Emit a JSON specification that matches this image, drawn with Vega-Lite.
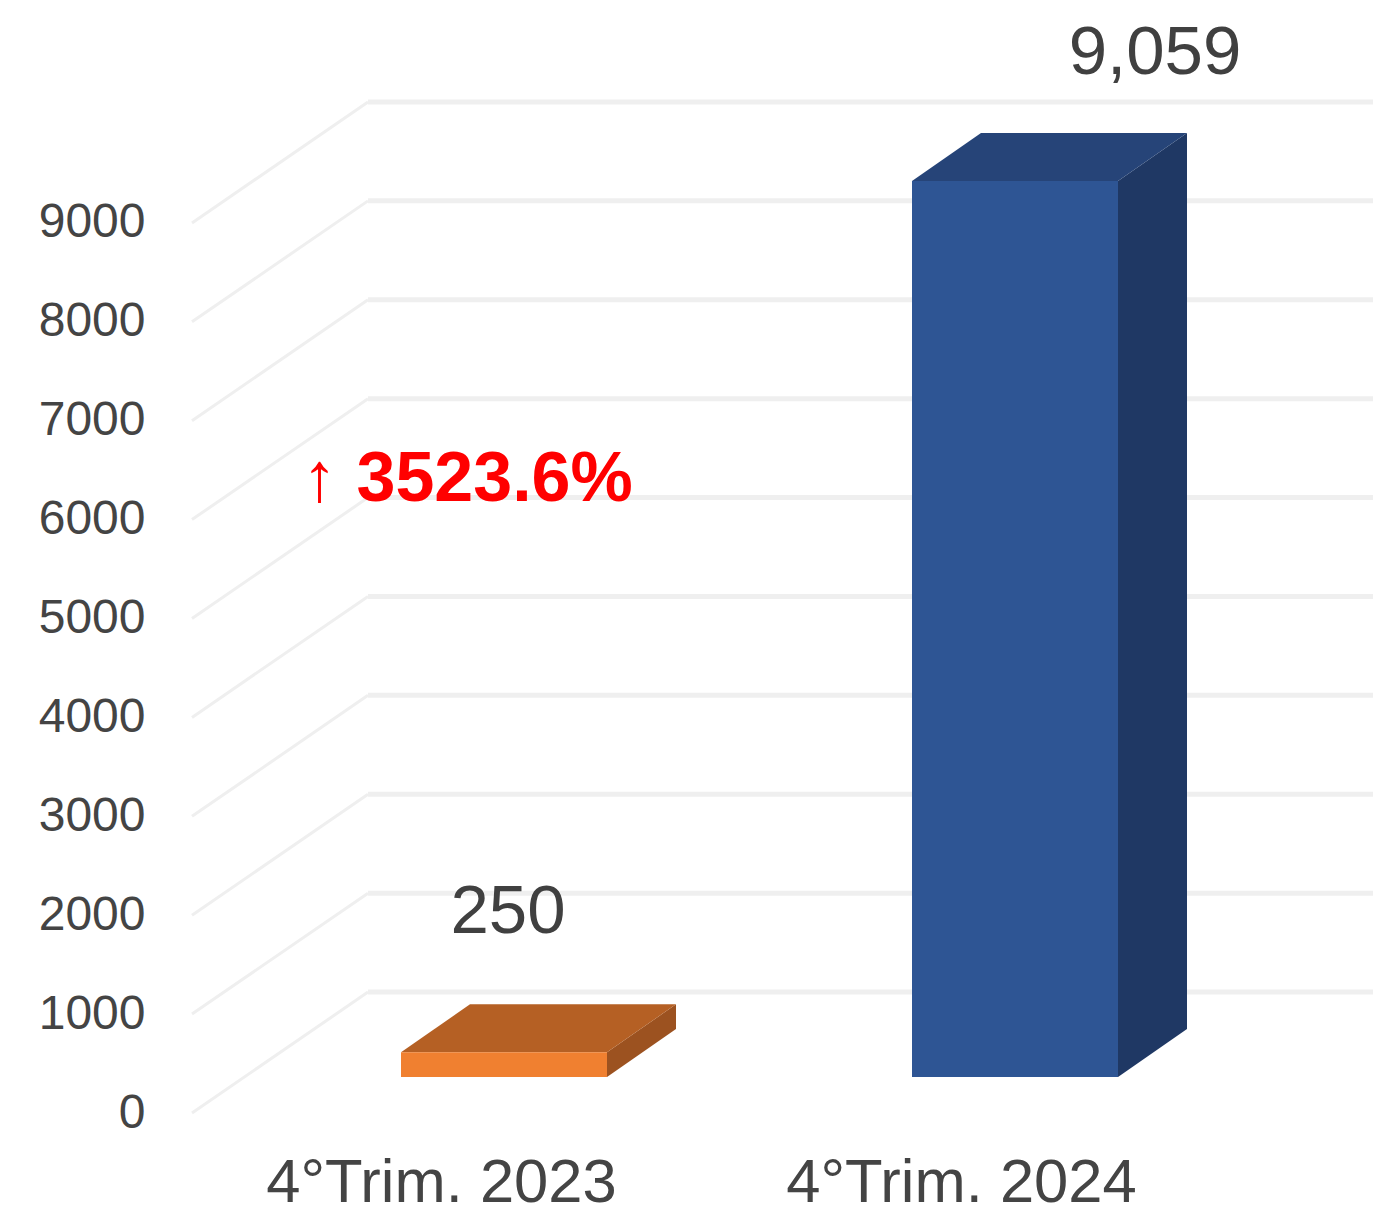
{
"$schema":"https://vega.github.io/schema/vega-lite/v6.json",
"width":1181,"height":1113,
"autosize":{"type":"none"},
"padding":{"left":192,"right":0,"top":0,"bottom":92},
"background":"white",
"config":{"view":{"stroke":null},"font":"Liberation Sans"},
"resolve":{"scale":{"color":"independent"}},
"datasets":{
"bars":[{"quarter":"4°Trim. 2023","value":250},{"quarter":"4°Trim. 2024","value":9059}],
"ticks":[{"tick":0},{"tick":1000},{"tick":2000},{"tick":3000},{"tick":4000},{"tick":5000},{"tick":6000},{"tick":7000},{"tick":8000},{"tick":9000}],
"note":[{"label":"↑ 3523.6%"}]
},
"layer":[
{"data":{"name":"ticks"},
 "transform":[{"calculate":"datum.tick+1223","as":"back"},{"calculate":"0","as":"a"},{"calculate":"176","as":"b"}],
 "mark":{"type":"rule","stroke":"#EFEFEF","strokeWidth":3},
 "encoding":{
  "x":{"field":"a","type":"quantitative","scale":{"domain":[0,1181],"nice":false,"zero":false},
   "axis":{"values":[249,769],"labelExpr":"datum.value<500?'4°Trim. 2023':'4°Trim. 2024'","title":null,"domain":false,"ticks":false,"grid":false,"labelFontSize":61.5,"labelColor":"#444444","labelPadding":39,"labelBaseline":"top","labelFlush":false,"labelOverlap":false,"labelLimit":600}},
  "x2":{"field":"b"},
  "y":{"field":"tick","type":"quantitative","scale":{"domain":[0,11254],"nice":false,"zero":false},
   "axis":{"values":[0,1000,2000,3000,4000,5000,6000,7000,8000,9000],"format":"d","title":null,"domain":false,"ticks":false,"grid":false,"labelFontSize":48,"labelColor":"#444444","labelPadding":47,"labelOverlap":false,"labelFlush":false,"labelLimit":300}},
  "y2":{"field":"back"}
 }},
{"data":{"name":"ticks"},
 "transform":[{"calculate":"datum.tick+1223","as":"back"},{"calculate":"176","as":"b"},{"calculate":"1181","as":"c"}],
 "mark":{"type":"rule","stroke":"#EFEFEF","strokeWidth":5},
 "encoding":{"x":{"field":"b","type":"quantitative"},"x2":{"field":"c"},"y":{"field":"back","type":"quantitative"}}},
{"data":{"name":"bars"},
 "transform":[{"calculate":"datum.value<1000?209:720","as":"x0"},{"calculate":"datum.x0+206","as":"x1"},{"calculate":"364","as":"base"},{"calculate":"364+datum.value","as":"top"},{"calculate":"[0,1]","as":"t"},{"flatten":["t"]},{"calculate":"datum.x1+69*datum.t","as":"sx"},{"calculate":"datum.base+485*datum.t","as":"sb"},{"calculate":"datum.top+485*datum.t","as":"st"}],
 "mark":{"type":"area","orient":"vertical"},
 "encoding":{"x":{"field":"sx","type":"quantitative"},"y":{"field":"sb","type":"quantitative"},"y2":{"field":"st"},"color":{"field":"quarter","type":"nominal","legend":null,"scale":{"domain":["4°Trim. 2023","4°Trim. 2024"],"range":["#9C5220","#1F3864"]}}}},
{"data":{"name":"bars"},
 "transform":[{"calculate":"datum.value<1000?209:720","as":"x0"},{"calculate":"364+datum.value","as":"top"},{"calculate":"[0,1]","as":"t"},{"flatten":["t"]},{"calculate":"datum.x0+69*datum.t","as":"tl"},{"calculate":"datum.x0+206+69*datum.t","as":"tr"},{"calculate":"datum.top+485*datum.t","as":"ty"}],
 "mark":{"type":"area","orient":"horizontal"},
 "encoding":{"y":{"field":"ty","type":"quantitative"},"x":{"field":"tl","type":"quantitative"},"x2":{"field":"tr"},"color":{"field":"quarter","type":"nominal","legend":null,"scale":{"domain":["4°Trim. 2023","4°Trim. 2024"],"range":["#B56024","#264478"]}}}},
{"data":{"name":"bars"},
 "transform":[{"calculate":"datum.value<1000?209:720","as":"x0"},{"calculate":"datum.x0+206","as":"x1"},{"calculate":"364","as":"base"},{"calculate":"364+datum.value","as":"top"}],
 "mark":{"type":"rect"},
 "encoding":{"x":{"field":"x0","type":"quantitative"},"x2":{"field":"x1"},"y":{"field":"base","type":"quantitative"},"y2":{"field":"top"},"color":{"field":"quarter","type":"nominal","legend":null,"scale":{"domain":["4°Trim. 2023","4°Trim. 2024"],"range":["#F08030","#2E5594"]}}}},
{"data":{"name":"bars"},
 "transform":[{"calculate":"datum.value<1000?316:963","as":"lx"},{"calculate":"datum.value<1000?2030:10715","as":"ly"},{"calculate":"format(datum.value,',')","as":"txt"}],
 "mark":{"type":"text","fontSize":69,"color":"#404040","align":"center","baseline":"middle"},
 "encoding":{"x":{"field":"lx","type":"quantitative"},"y":{"field":"ly","type":"quantitative"},"text":{"field":"txt"}}},
{"data":{"name":"note"},
 "transform":[{"calculate":"110","as":"lx"},{"calculate":"6400","as":"ly"}],
 "mark":{"type":"text","fontSize":70,"fontWeight":"bold","color":"#FF0000","align":"left","baseline":"middle"},
 "encoding":{"x":{"field":"lx","type":"quantitative"},"y":{"field":"ly","type":"quantitative"},"text":{"field":"label"}}}
]
}
